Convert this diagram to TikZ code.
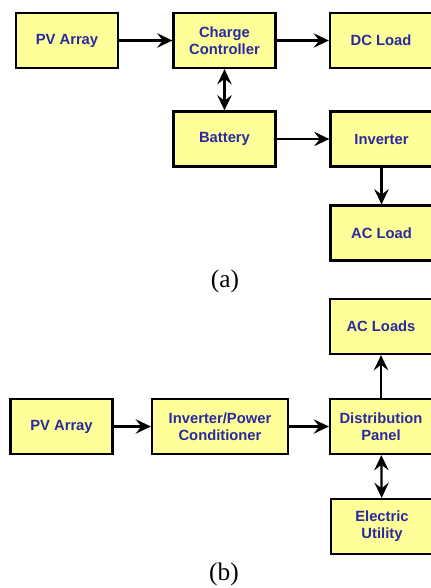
\documentclass[tikz,border=0pt]{standalone}
\usepackage{fontspec}
\setsansfont{Liberation Sans}
\setmainfont{Liberation Serif}
\usetikzlibrary{arrows.meta,positioning}
\definecolor{pvYellow}{HTML}{FFFF99}
\definecolor{pvNavy}{HTML}{2A2A9C}
\begin{document}
\begin{tikzpicture}[x=0.025cm,y=-0.025cm,
  font=\sffamily\bfseries\fontsize{10.5}{12}\selectfont,
  blk/.style={draw=black,fill=pvYellow,line width=1.6pt,text=pvNavy,
    minimum width=2.55cm,minimum height=1.375cm,align=center,inner sep=2pt},
  arr/.style={-{Stealth[length=3.8mm,width=3.6mm,inset=1.4mm]},line width=1.6pt},
  both/.style={{Stealth[length=3.8mm,width=3.6mm,inset=1.4mm]}-{Stealth[length=3.8mm,width=3.6mm,inset=1.4mm]},line width=1.6pt},
  sublbl/.style={font=\rmfamily\fontsize{18}{20}\selectfont}]
\useasboundingbox (0,0) rectangle (431,588);
% (a) stand-alone system
\node[blk] (pva) at (67,40.5) {PV Array};
\node[blk] (cc) at (224.5,40.5) {Charge\\Controller};
\node[blk] (dc) at (381,40.5) {DC Load};
\node[blk] (bat) at (224.5,139) {Battery};
\node[blk] (inv) at (381.5,139) {Inverter};
\node[blk] (acl) at (381.5,233) {AC Load};
\node[sublbl] (la) at (225,281) {(a)};
\draw[arr] (pva) -- (cc);
\draw[arr] (cc) -- (dc);
\draw[both] (cc) -- (bat);
\draw[arr] (bat) -- (inv);
\draw[arr] (inv) -- (acl);
% (b) grid-tied system
\node[blk] (acs) at (381,326.5) {AC Loads};
\node[blk] (pvb) at (61.5,426.5) {PV Array};
\node[blk,minimum width=3.4cm] (ipc) at (220,426.5) {Inverter/Power\\Conditioner};
\node[blk] (dp) at (381,426.5) {Distribution\\Panel};
\node[blk] (eu) at (382,526.5) {Electric\\Utility};
\node[sublbl] (lb) at (224,574) {(b)};
\draw[arr] (pvb) -- (ipc);
\draw[arr] (ipc) -- (dp);
\draw[arr] (dp) -- (acs);
\draw[both] (dp) -- (eu);
\end{tikzpicture}
\end{document}
